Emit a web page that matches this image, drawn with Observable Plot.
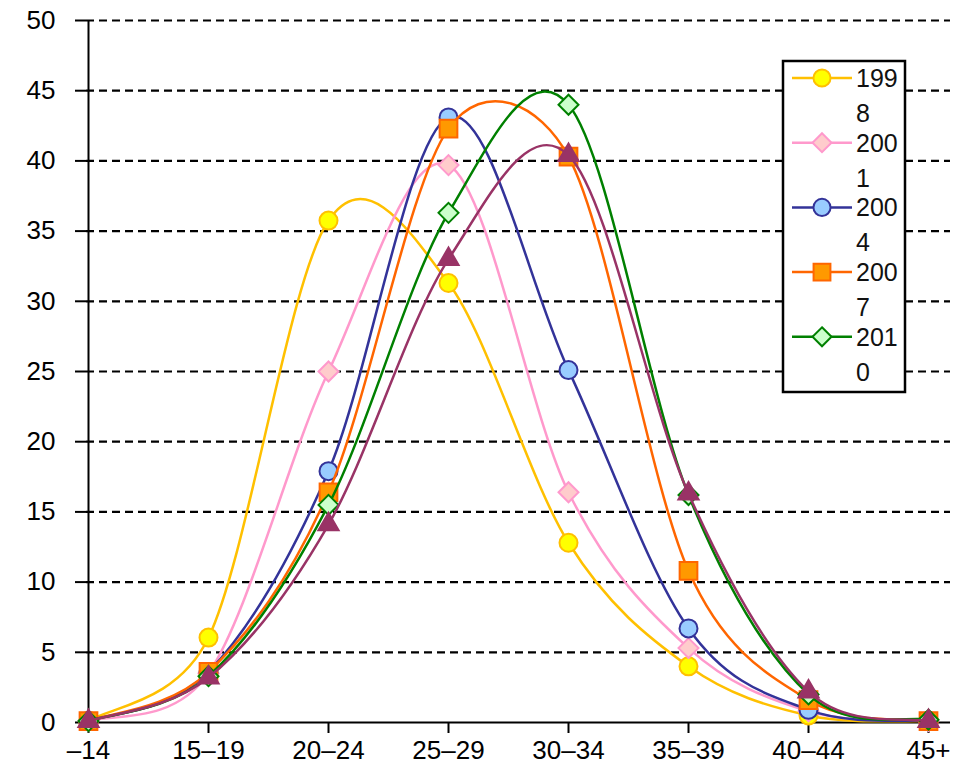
<!DOCTYPE html>
<html>
<head>
<meta charset="utf-8">
<script src="https://cdn.jsdelivr.net/npm/d3@7"></script>
<script src="https://cdn.jsdelivr.net/npm/@observablehq/plot@0.6"></script>
<style>
  html, body { margin: 0; padding: 0; background: #fff; }
  #chart { width: 971px; height: 775px; }
</style>
</head>
<body>
<div id="chart"></div>
<script>
const ageGroups = ["–14", "15–19", "20–24", "25–29", "30–34", "35–39", "40–44", "45+"];
const years = ["1998", "2001", "2004", "2007", "2010", "2013"];
const legendYears = ["1998", "2001", "2004", "2007", "2010"];
const yTicks = [0, 5, 10, 15, 20, 25, 30, 35, 40, 45, 50];

const v1998 = [0.1, 6.05, 35.75, 31.3, 12.8, 4.0, 0.5, 0.1];
const v2001 = [0.1, 3.5, 25.0, 39.7, 16.4, 5.3, 0.8, 0.1];
const v2004 = [0.1, 3.6, 17.9, 43.1, 25.1, 6.7, 0.9, 0.1];
const v2007 = [0.1, 3.6, 16.4, 42.3, 40.3, 10.8, 1.6, 0.1];
const v2010 = [0.1, 3.3, 15.5, 36.3, 44.0, 16.2, 2.0, 0.2];
const v2013 = [0.1, 3.2, 14.1, 33.0, 40.4, 16.3, 2.2, 0.1];
const seriesValues = [v1998, v2001, v2004, v2007, v2010, v2013];

const lineColors = ["#FFC000", "#FF99CC", "#333399", "#FF6600", "#008000", "#993366"];
const markFills = ["#FFFF00", "#FFCCCC", "#99CCFF", "#FF9900", "#CCFFCC", "#993366"];
const markStrokes = ["#FFC000", "#FF99CC", "#333399", "#FF6600", "#008000", "#993366"];
const markSymbols = [d3.symbolCircle, d3.symbolDiamond2, d3.symbolCircle, d3.symbolSquare, d3.symbolDiamond2, d3.symbolTriangle];
const markR = [9, 9, 9, 10, 9, 7.5];

// Spreadsheet-style smoothed line: Bezier segments whose control arms are
// (P[i+1]-P[i-1])/6, capped at half the length of the segment they belong to.
function smoothCurve(context) {
  let pts = [];
  const dist = (a, b) => Math.hypot(b[0] - a[0], b[1] - a[1]);
  return {
    areaStart() {}, areaEnd() {},
    lineStart() { pts = []; },
    point(x, y) { pts.push([+x, +y]); },
    lineEnd() {
      const n = pts.length;
      if (!n) return;
      context.moveTo(pts[0][0], pts[0][1]);
      if (n === 1) return;
      const arm = (prev, next, segLen) => {
        const d = dist(prev, next);
        if (d === 0) return [0, 0];
        const f = Math.min(1 / 6, segLen / (2 * d));
        return [(next[0] - prev[0]) * f, (next[1] - prev[1]) * f];
      };
      for (let i = 0; i < n - 1; i++) {
        const p0 = pts[Math.max(0, i - 1)], p1 = pts[i], p2 = pts[i + 1], p3 = pts[Math.min(n - 1, i + 2)];
        const seg = dist(p1, p2);
        const a = arm(p0, p2, seg);
        const b = arm(p1, p3, seg);
        context.bezierCurveTo(p1[0] + a[0], p1[1] + a[1], p2[0] - b[0], p2[1] - b[1], p2[0], p2[1]);
      }
    }
  };
}

const series = years.map((year, i) => ageGroups.map((age, j) => ({ year, age, value: seriesValues[i][j] })));

const marks = [
  Plot.ruleY(yTicks.filter(d => d > 0), { stroke: "black", strokeWidth: 2.2, strokeDasharray: "8,5" }),
  Plot.ruleY([0], { stroke: "black", strokeWidth: 2 }),
  Plot.ruleX([ageGroups[0]], { stroke: "black", strokeWidth: 2 }),
  Plot.axisY({ ticks: yTicks, tickSize: 11, tickPadding: 20, tickFormat: d => String(d), stroke: "black", strokeWidth: 2 }),
  Plot.axisX({ tickSize: 11, tickPadding: 7, stroke: "black", strokeWidth: 2 })
];
series.forEach((data, i) => {
  marks.push(Plot.line(data, { x: "age", y: "value", curve: smoothCurve, stroke: lineColors[i], strokeWidth: 2.5 }));
  marks.push(Plot.dot(data, { x: "age", y: "value", symbol: markSymbols[i], r: markR[i], fill: markFills[i], stroke: markStrokes[i], strokeWidth: 2, fillOpacity: 1 }));
});

const chart = Plot.plot({
  width: 971,
  height: 775,
  marginLeft: 86,
  marginRight: 21,
  marginTop: 20,
  marginBottom: 53,
  style: { fontFamily: "'Liberation Sans', Arial, sans-serif", fontSize: "26px", color: "black", background: "white" },
  x: { type: "point", domain: ageGroups, padding: 0, insetRight: 21, label: null },
  y: { domain: [0, 50], label: null },
  marks
});
document.getElementById("chart").appendChild(chart);

// Legend (box clips the last entry, as in the original)
const svg = d3.select(chart);
const lg = svg.append("g").attr("transform", "translate(783,61)");
lg.append("rect").attr("width", 122).attr("height", 331).attr("fill", "white").attr("stroke", "black").attr("stroke-width", 2.5);
legendYears.forEach((year, i) => {
  const k = years.indexOf(year);
  const cy = 17 + i * 64.7;
  const g = lg.append("g").attr("transform", `translate(0,${cy})`);
  g.append("line").attr("x1", 9).attr("x2", 69).attr("y1", 0).attr("y2", 0).attr("stroke", lineColors[k]).attr("stroke-width", 2.5);
  const r = markR[k] * 0.95;
  g.append("path").attr("transform", "translate(39,0)")
    .attr("d", d3.symbol(markSymbols[k], Math.PI * r * r)())
    .attr("fill", markFills[k]).attr("stroke", markStrokes[k]).attr("stroke-width", 2);
  const txt = (s, y) => g.append("text").attr("x", 73).attr("y", y)
    .attr("text-anchor", "start").attr("font-size", 25)
    .attr("font-family", "'Liberation Sans', Arial, sans-serif").attr("fill", "#111").text(s);
  txt(year.slice(0, 3), 9);
  txt(year.slice(3), 44);
});
</script>
</body>
</html>
